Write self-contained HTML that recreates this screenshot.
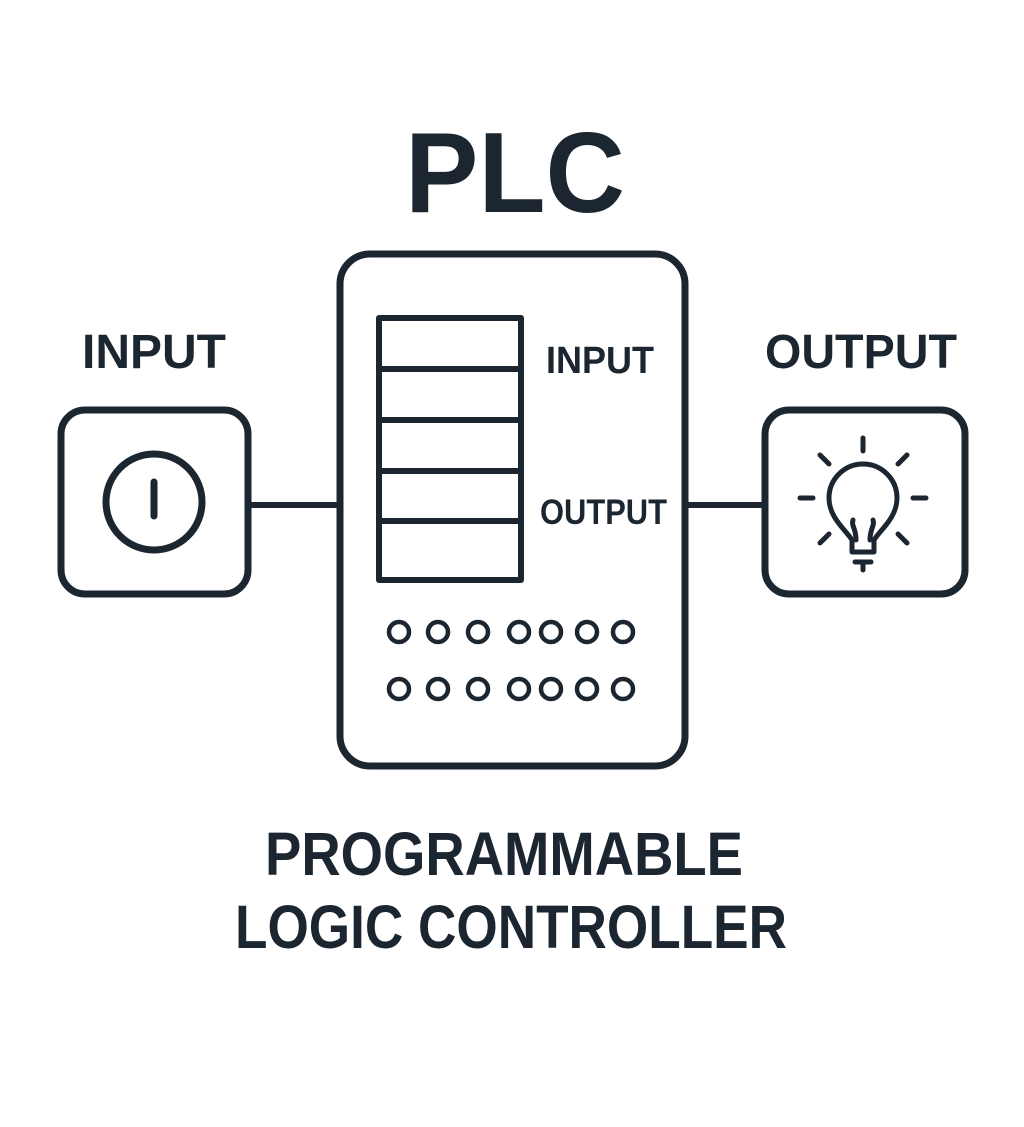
<!DOCTYPE html>
<html><head><meta charset="utf-8"><style>
html,body{margin:0;padding:0;background:#fff;}
svg{display:block;}
text{font-family:"Liberation Sans",sans-serif;font-weight:bold;fill:#1c2630;}
</style></head><body>
<svg width="1024" height="1127" viewBox="0 0 1024 1127" xmlns="http://www.w3.org/2000/svg">
<rect width="1024" height="1127" fill="#fff"/>
<text x="405" y="212" font-size="114" textLength="220" lengthAdjust="spacingAndGlyphs">PLC</text>
<text x="82" y="368" font-size="48" textLength="144" lengthAdjust="spacingAndGlyphs">INPUT</text>
<text x="765" y="368" font-size="48" textLength="192" lengthAdjust="spacingAndGlyphs">OUTPUT</text>
<g fill="none" stroke="#1c2630" stroke-linecap="round" stroke-linejoin="round">
<rect x="61" y="410" width="187" height="184" rx="24" stroke-width="7"/>
<circle cx="154" cy="502" r="48" stroke-width="7"/>
<line x1="154" y1="482" x2="154" y2="516" stroke-width="7"/>
<line x1="250" y1="505" x2="337" y2="505" stroke-width="6" stroke-linecap="butt"/>
<rect x="340" y="254" width="345" height="512" rx="30" stroke-width="7"/>
<rect x="379" y="318" width="142" height="262" stroke-width="6"/>
<line x1="379" y1="369" x2="521" y2="369" stroke-width="6"/>
<line x1="379" y1="420" x2="521" y2="420" stroke-width="6"/>
<line x1="379" y1="471" x2="521" y2="471" stroke-width="6"/>
<line x1="379" y1="521" x2="521" y2="521" stroke-width="6"/>
<g stroke-width="4.5">
<circle cx="399" cy="632" r="10"/><circle cx="438" cy="632" r="10"/><circle cx="478" cy="632" r="10"/><circle cx="519" cy="632" r="10"/><circle cx="551" cy="632" r="10"/><circle cx="587" cy="632" r="10"/><circle cx="623" cy="632" r="10"/>
<circle cx="399" cy="689" r="10"/><circle cx="438" cy="689" r="10"/><circle cx="478" cy="689" r="10"/><circle cx="519" cy="689" r="10"/><circle cx="551" cy="689" r="10"/><circle cx="587" cy="689" r="10"/><circle cx="623" cy="689" r="10"/>
</g>
<line x1="686" y1="505" x2="763" y2="505" stroke-width="6" stroke-linecap="butt"/>
<rect x="765" y="410" width="200" height="184" rx="24" stroke-width="7"/>
<g stroke-width="5">
<line x1="863" y1="438" x2="863" y2="451"/>
<line x1="820" y1="455" x2="829" y2="464"/>
<line x1="907" y1="455" x2="898" y2="464"/>
<line x1="800" y1="498" x2="813" y2="498"/>
<line x1="913" y1="498" x2="926" y2="498"/>
<line x1="820" y1="543" x2="829" y2="534"/>
<line x1="907" y1="543" x2="898" y2="534"/>
<path d="M852 552 L852 540 C846 530 829 518 829 498 A34 34 0 0 1 897 498 C897 518 880 530 874 540 L874 552 Z"/>
<path d="M856 540 C856 528 851 526 853 520 M870 540 C870 528 875 526 873 520"/>
<line x1="855" y1="562" x2="871" y2="562"/>
<line x1="863" y1="562" x2="863" y2="570"/>
</g>
</g>
<text x="546" y="373" font-size="38" textLength="108" lengthAdjust="spacingAndGlyphs">INPUT</text>
<text x="540" y="524" font-size="35" textLength="127" lengthAdjust="spacingAndGlyphs">OUTPUT</text>
<text x="265" y="875" font-size="61" textLength="478" lengthAdjust="spacingAndGlyphs">PROGRAMMABLE</text>
<text x="235" y="948" font-size="61" textLength="552" lengthAdjust="spacingAndGlyphs">LOGIC CONTROLLER</text>
</svg>
</body></html>
